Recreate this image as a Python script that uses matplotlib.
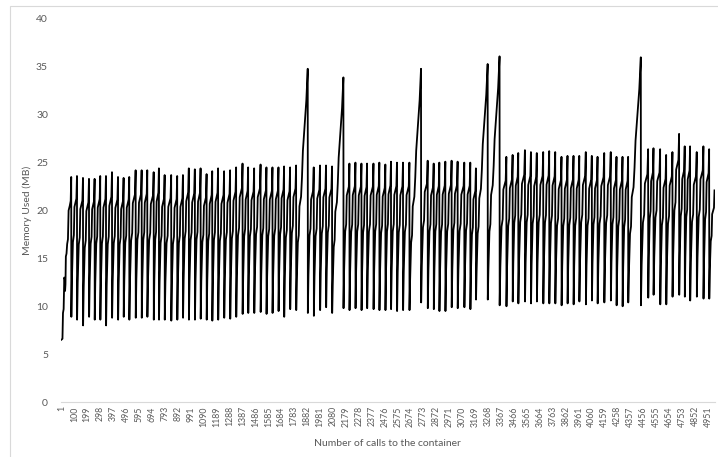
import matplotlib
matplotlib.use("Agg")
import matplotlib.pyplot as plt
from matplotlib.patches import Rectangle

# warm-up before the first collection, read point by point
init_calls = [1, 10, 14, 19, 24, 28, 30, 33, 36, 41, 46, 52, 57, 66, 73, 77]
init_mb = [6.5, 6.6, 9.3, 9.7, 13.0, 12.8, 11.6, 12.3, 15.2, 15.5, 16.5, 17.0, 20.0, 20.5, 21.0, 23.5]

# every later cycle: call where memory peaks (next call drops), trough at start, peak
cycle_end = [
    121, 167, 213, 256, 299, 343, 389, 435, 478, 521, 570, 616, 659, 708, 748, 792,
    842, 888, 932, 977, 1023, 1067, 1113, 1156, 1201, 1247, 1293, 1339, 1388, 1431,
    1477, 1526, 1571, 1617, 1663, 1706, 1752, 1798, 1887, 1933, 1981, 2027, 2073, 2160,
    2206, 2252, 2298, 2341, 2390, 2435, 2481, 2524, 2570, 2616, 2665, 2754,
    2805, 2851, 2894, 2940, 2988, 3034, 3085, 3131, 3174, 3264, 3355,
    3407, 3455, 3498, 3549, 3595, 3640, 3689, 3735, 3781, 3829, 3875, 3921, 3965,
    4015, 4061, 4105, 4156, 4206, 4250, 4296, 4339, 4436,
    4492, 4533, 4584, 4630, 4678, 4729, 4772, 4813, 4864, 4915, 4959, 5000,
]
cycle_low = [
    8.9, 8.6, 8.0, 8.9, 8.6, 8.6, 8.0, 8.8, 8.6, 8.9, 8.6, 8.8, 8.8, 8.9, 8.6, 8.6,
    8.6, 8.5, 8.6, 8.8, 8.6, 8.6, 8.7, 8.6, 8.5, 8.6, 8.8, 8.7, 8.9, 9.2,
    9.3, 9.3, 9.4, 9.2, 9.3, 9.5, 8.9, 9.7, 9.6, 9.3, 9.0, 9.6, 9.9, 9.3,
    9.8, 9.6, 9.8, 9.6, 9.8, 9.7, 9.6, 9.6, 9.7, 9.5, 9.6, 9.6,
    10.4, 9.8, 9.7, 9.5, 9.5, 9.9, 9.8, 9.9, 9.7, 10.7, 10.7,
    10.1, 10.0, 10.5, 10.3, 10.5, 10.3, 10.5, 10.3, 10.3, 10.3, 10.1, 10.3, 10.2,
    10.5, 10.2, 10.6, 10.3, 10.4, 10.6, 10.1, 10.0, 10.4,
    10.1, 10.9, 11.2, 10.2, 10.2, 11.0, 11.2, 11.0, 10.6, 11.0, 10.8, 10.8,
]
cycle_peak = [
    23.6, 23.4, 23.3, 23.3, 23.6, 23.6, 24.0, 23.5, 23.4, 23.5, 24.2, 24.2, 24.2, 24.0, 24.4, 23.7,
    23.7, 23.6, 23.7, 24.4, 24.3, 24.4, 23.8, 24.1, 24.4, 24.1, 24.2, 24.5, 24.9, 24.5,
    24.4, 24.8, 24.5, 24.5, 24.5, 24.6, 24.5, 24.7, 34.8, 24.5, 24.7, 24.7, 24.6, 33.9,
    24.9, 25.0, 24.9, 24.9, 24.9, 25.0, 24.8, 25.1, 25.0, 25.0, 25.0, 34.8,
    25.2, 24.9, 25.0, 25.1, 25.2, 25.1, 25.0, 25.0, 24.4, 35.3, 36.1,
    25.6, 25.8, 26.0, 26.3, 26.1, 26.0, 26.1, 26.2, 26.1, 25.6, 25.7, 25.7, 25.7,
    26.1, 25.7, 25.6, 26.0, 26.1, 25.6, 25.6, 25.6, 36.0,
    26.4, 26.5, 26.4, 25.8, 26.1, 28.0, 26.7, 26.7, 26.1, 26.7, 26.4, 22.1,
]

# shape of one cycle: position in the cycle and share of the low->peak rise
normal_pos = [0.0, 0.1, 0.28, 0.45, 0.55, 0.9, 1.0]
normal_rise = [0.0, 0.26, 0.53, 0.58, 0.78, 0.84, 1.0]
spike_pos = [0.0, 0.05, 0.14, 0.22, 0.28, 0.42, 0.5, 0.58, 0.65, 0.88, 1.0]
spike_rise = [0.0, 0.12, 0.28, 0.31, 0.43, 0.47, 0.55, 0.66, 0.71, 0.87, 1.0]

TICK_CALLS = list(range(1, 4952, 99))
TEXT_GREY = "#595959"
AXIS_GREY = "#d9d9d9"


def build_series():
    calls = list(init_calls)
    mb = list(init_mb)
    prev = init_calls[-1]
    for end, low, peak in zip(cycle_end, cycle_low, cycle_peak):
        start = prev + 1
        if peak > 30:
            pos, rise = spike_pos, spike_rise
        else:
            pos, rise = normal_pos, normal_rise
        for p, r in zip(pos, rise):
            calls.append(start + p * (end - start))
            mb.append(low + r * (peak - low))
        prev = end
    return calls, mb


def main():
    plt.rcParams["font.family"] = ["Lato", "DejaVu Sans"]
    calls, mb = build_series()

    fig = plt.figure(figsize=(7.18, 4.57), dpi=100)
    ax = fig.add_axes([60.5 / 718, 55 / 457, 654 / 718, 383 / 457])
    ax.plot(calls, mb, color="black", linewidth=1.3)

    ax.set_xlim(-5, 5000)
    ax.set_ylim(0, 40)
    ax.set_yticks(range(0, 41, 5))
    ax.set_xticks(TICK_CALLS)
    ax.set_xticklabels([str(c) for c in TICK_CALLS], rotation=90, fontsize=6.3, color=TEXT_GREY)
    ax.tick_params(axis="y", length=0, pad=9, labelsize=7.5, labelcolor=TEXT_GREY)
    ax.tick_params(axis="x", length=0, pad=3)

    for side in ("top", "right", "left"):
        ax.spines[side].set_visible(False)
    ax.spines["bottom"].set_color(AXIS_GREY)
    ax.spines["bottom"].set_linewidth(0.8)

    ax.set_ylabel("Memory Used (MB)", fontsize=7.5, color=TEXT_GREY, labelpad=3)
    ax.set_xlabel("Number of calls to the container", fontsize=7.5, color=TEXT_GREY, labelpad=9)

    # chart frame, only left and top edges are inside the picture
    fig.patches.append(Rectangle((10 / 718, -0.1), 1.0, 0.1 + 451 / 457,
                                 transform=fig.transFigure, fill=False,
                                 edgecolor=AXIS_GREY, linewidth=0.8))

    fig.savefig("out.png", dpi=100)
    plt.close(fig)


if __name__ == "__main__":
    main()
